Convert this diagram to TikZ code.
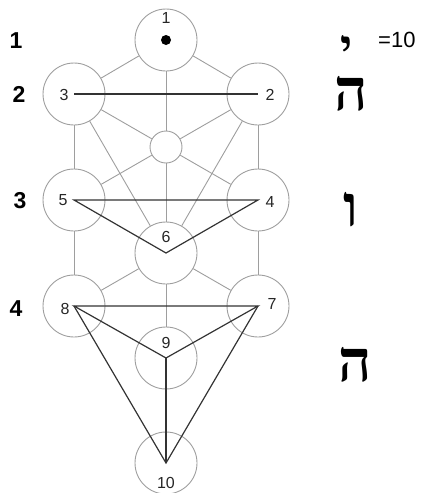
\documentclass[tikz,border=0pt]{standalone}
\usepackage{fontspec}
\setmainfont{Liberation Sans}
\newfontfamily\hebfont[Script=Hebrew]{Liberation Serif}
\begin{document}
\begin{tikzpicture}[x=1pt,y=-1pt,
  sef/.style={circle,draw=black!38,line width=0.9pt,minimum size=62pt,inner sep=0pt},
  smallsef/.style={circle,draw=black!38,line width=0.9pt,minimum size=32pt,inner sep=0pt},
  path/.style={draw=black!38,line width=0.9pt},
  tri/.style={draw=black!80,line width=1.2pt},
  num/.style={inner sep=0pt,font=\fontsize{16}{16}\selectfont,text=black!85},
  rowlab/.style={inner sep=0pt,font=\fontsize{23}{23}\selectfont\bfseries},
  heb/.style={inner sep=0pt,font=\fontsize{58}{58}\selectfont\hebfont\bfseries},
  ]
\useasboundingbox (0,0) rectangle (428,493);
% sefirot
\node[sef] (c1) at (166,40) {};
\node[sef] (c3) at (74,94) {};
\node[sef] (c2) at (258,94) {};
\node[smallsef] (cs) at (166,147) {};
\node[sef] (c5) at (74,200) {};
\node[sef] (c4) at (258,200) {};
\node[sef] (c6) at (166,253) {};
\node[sef] (c8) at (74,306) {};
\node[sef] (c7) at (258,306) {};
\node[sef] (c9) at (166,358) {};
\node[sef] (c10) at (166,463) {};
% paths
\path[path] (c1) -- (c3);
\path[path] (c1) -- (c2);
\path[path] (c1) -- (cs);
\path[path] (c3) -- (cs);
\path[path] (c2) -- (cs);
\path[path] (c3) -- (c6);
\path[path] (c2) -- (c6);
\path[path] (c3) -- (c5);
\path[path] (c2) -- (c4);
\path[path] (cs) -- (c5);
\path[path] (cs) -- (c4);
\path[path] (cs) -- (c6);
\path[path] (c5) -- (c8);
\path[path] (c4) -- (c7);
\path[path] (c6) -- (c8);
\path[path] (c6) -- (c7);
\path[path] (c6) -- (c9);
% triangles
\path[tri] (c3.center) -- (c2.center);
\path[tri] (c5.center) -- (c4.center) -- (c6.center) -- cycle;
\path[tri] (c8.center) -- (c7.center) -- (c9.center) -- cycle;
\path[tri] (c8.center) -- (c10.center) -- (c7.center);
\path[tri] (c9.center) -- (c10.center);
% dot
\fill[black] (c1.center) circle (5pt);
% numbers
\node[num] (n1) at (166,18) {1};
\node[num] (n2) at (270,95) {2};
\node[num] (n3) at (64,95) {3};
\node[num] (n4) at (270,202) {4};
\node[num] (n5) at (63,200) {5};
\node[num] (n6) at (166,237) {6};
\node[num] (n7) at (272,304) {7};
\node[num] (n8) at (65,309) {8};
\node[num] (n9) at (166,343) {9};
\node[num] (n10) at (166,483) {10};
% row labels
\node[rowlab] (r1) at (16,41) {1};
\node[rowlab] (r2) at (19,94) {2};
\node[rowlab] (r3) at (20,201) {3};
\node[rowlab] (r4) at (16,309) {4};
% letters
\node[inner sep=0pt,font=\fontsize{46}{46}\selectfont\hebfont\bfseries,anchor=base] (yod) at (347,62) {י};
\node[inner sep=0pt,font=\fontsize{22}{22}\selectfont,anchor=west] (ten) at (378,40) {=10};
\node[heb] (he1) at (351,94) {ה};
\node[heb] (vav) at (351,210) {ו};
\node[heb] (he2) at (355,365) {ה};
\end{tikzpicture}
\end{document}
